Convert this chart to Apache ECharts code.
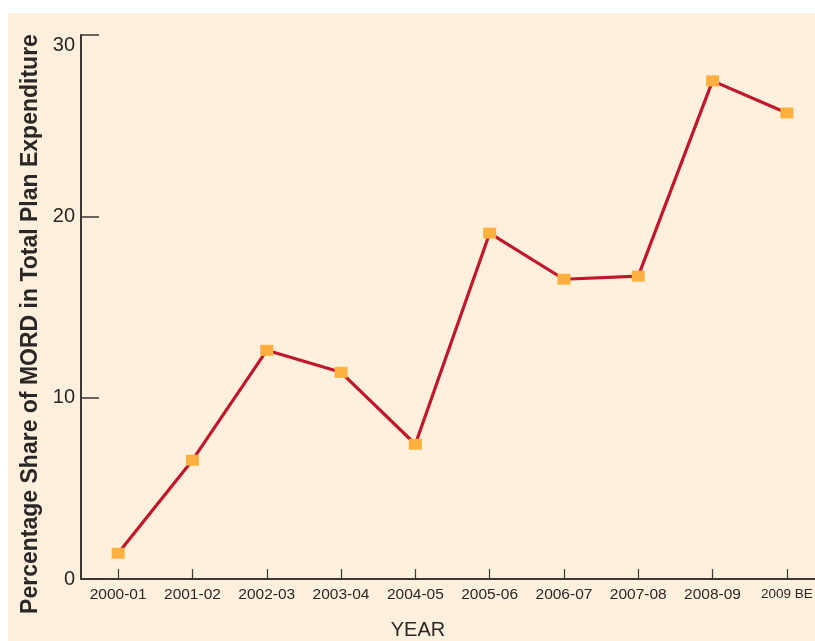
<!DOCTYPE html>
<html>
<head>
<meta charset="utf-8">
<script src="https://cdn.jsdelivr.net/npm/echarts@6/dist/echarts.min.js"></script>
<style>
html,body{margin:0;padding:0;background:#ffffff;}
#wrap{position:relative;width:815px;height:641px;overflow:hidden;}
#bg{position:absolute;left:8px;top:13px;right:0;bottom:0;background:#FEF0DC;}
#chart{position:absolute;left:0;top:0;width:815px;height:641px;}
</style>
</head>
<body>
<div id="wrap"><div id="bg"></div><div id="chart"></div></div>
<script>
const categories = ['2000-01','2001-02','2002-03','2003-04','2004-05','2005-06','2006-07','2007-08','2008-09','2009 BE'];
const shareValues = [1.42, 6.55, 12.61, 11.40, 7.43, 19.07, 16.53, 16.70, 27.47, 25.70];
const yTicks = [0, 10, 20, 30];
const xAxisTitle = 'YEAR';
const yAxisTitle = 'Percentage Share of MORD in Total Plan Expenditure';

const chart = echarts.init(document.getElementById('chart'), null, {renderer:'canvas'});
const axisColor = '#3b3735';
const textColor = '#2b2727';
chart.setOption({
  backgroundColor: 'transparent',
  animation: false,
  grid: {left: 81, width: 743, top: 35, bottom: 62, containLabel: false, outerBoundsMode: 'none'},
  xAxis: {
    type: 'category',
    data: categories,
    boundaryGap: true,
    name: xAxisTitle,
    nameLocation: 'middle',
    nameGap: 41,
    nameTextStyle: {fontFamily: 'Liberation Sans', fontSize: 20, color: textColor, padding: [0, 69, 0, 0]},
    axisLine: {show: true, lineStyle: {color: axisColor, width: 2}},
    axisTick: {show: true, inside: true, alignWithLabel: true, length: 10, lineStyle: {color: axisColor, width: 1.2}},
    axisLabel: {
      fontFamily: 'Liberation Sans', fontSize: 15.5, color: textColor, margin: 8, interval: 0,
      formatter: function (v) { return v === '2009 BE' ? '{s|' + v + '}' : v; },
      rich: {s: {fontFamily: 'Liberation Sans', fontSize: 13.5, color: textColor}}
    },
    splitLine: {show: false}
  },
  yAxis: {
    type: 'value',
    min: yTicks[0],
    max: yTicks[yTicks.length - 1],
    interval: 10,
    name: yAxisTitle,
    nameLocation: 'middle',
    nameGap: 37,
    nameRotate: 90,
    nameTextStyle: {fontFamily: 'Liberation Sans', fontSize: 23, fontWeight: 'bold', color: textColor, padding: [0, 34, 0, 0]},
    axisLine: {show: true, lineStyle: {color: axisColor, width: 2}},
    axisTick: {show: true, inside: true, length: 18, lineStyle: {color: axisColor, width: 1.5}},
    axisLabel: {fontFamily: 'Liberation Sans', fontSize: 20, color: textColor, margin: 6, verticalAlignMaxLabel: 'top'},
    splitLine: {show: false}
  },
  series: [{
    type: 'line',
    data: shareValues,
    symbol: 'rect',
    symbolSize: [13, 11],
    showAllSymbol: true,
    lineStyle: {color: '#C0172B', width: 3.2},
    itemStyle: {color: '#FDB040', borderWidth: 0},
    z: 3
  }]
});
</script>
</body>
</html>
